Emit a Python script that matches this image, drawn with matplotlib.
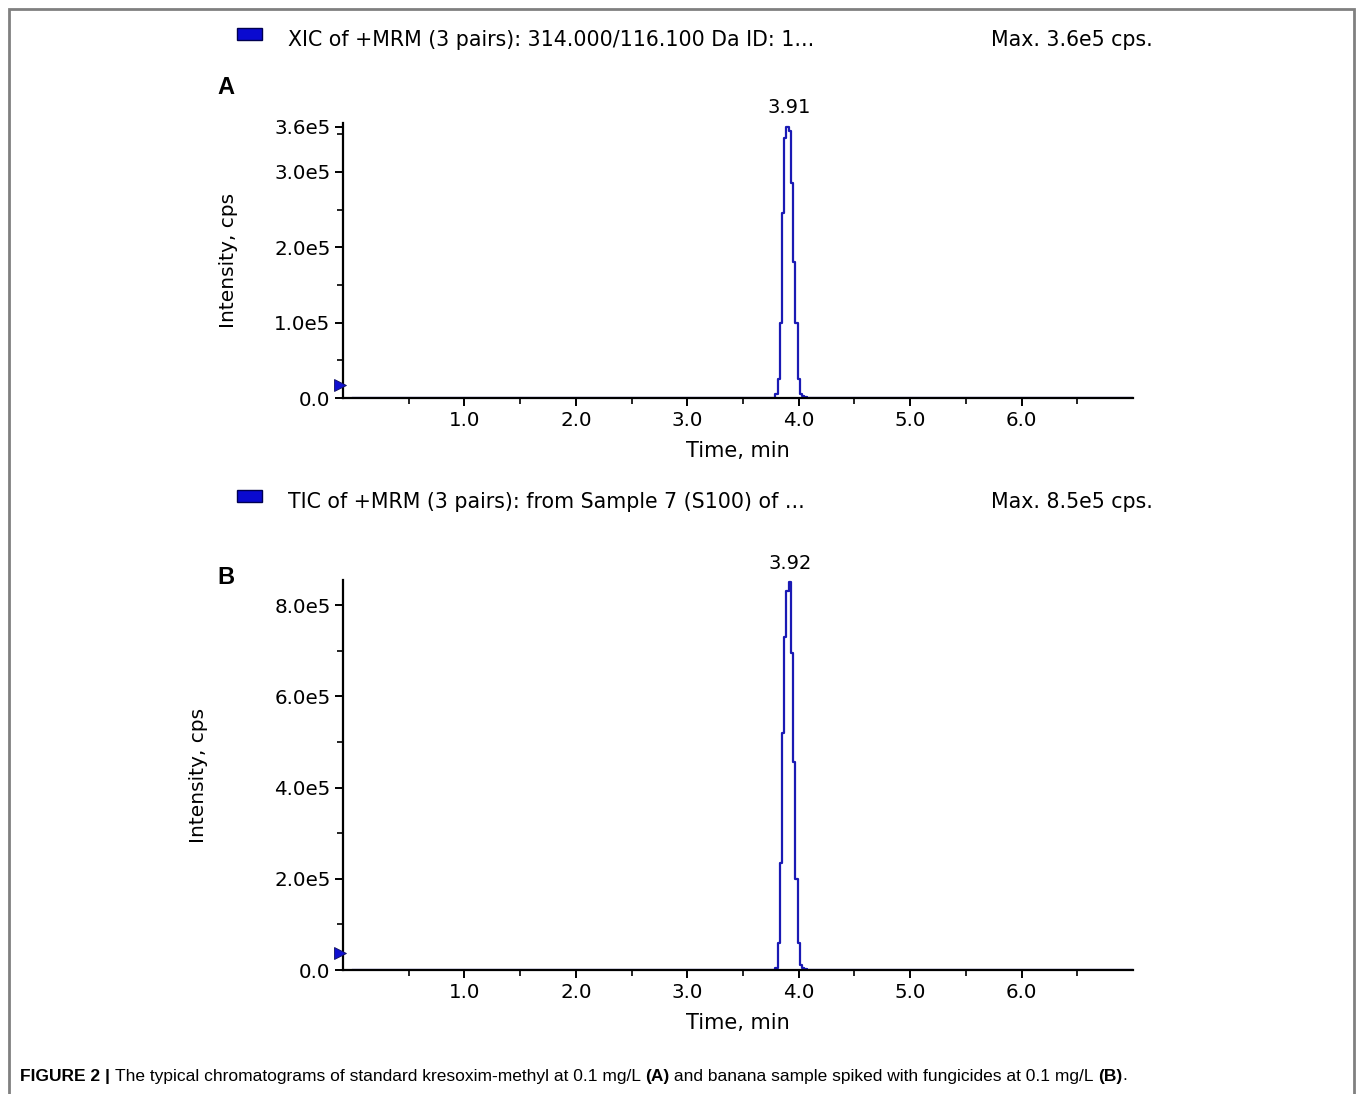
import numpy as np
import matplotlib
matplotlib.use("Agg")
import matplotlib.pyplot as plt
from matplotlib.patches import Rectangle
from matplotlib.ticker import MultipleLocator, FixedLocator

# chromatogram data (time in min, intensity in cps)
time_a = [0.0, 3.78, 3.80, 3.82, 3.84, 3.86, 3.88, 3.90, 3.92, 3.94, 3.96, 3.98, 4.00, 4.02, 4.04, 4.06, 4.08, 7.0]
int_a = [0, 0, 5e3, 2.5e4, 1.0e5, 2.45e5, 3.45e5, 3.6e5, 3.55e5, 2.85e5, 1.8e5, 1.0e5, 2.5e4, 5e3, 2e3, 1e3, 0, 0]

time_b = [0.0, 3.78, 3.80, 3.82, 3.84, 3.86, 3.88, 3.90, 3.92, 3.94, 3.96, 3.98, 4.00, 4.02, 4.04, 4.06, 4.08, 7.0]
int_b = [0, 0, 5e3, 6.0e4, 2.35e5, 5.2e5, 7.3e5, 8.3e5, 8.5e5, 6.95e5, 4.55e5, 2.0e5, 6.0e4, 1.0e4, 5e3, 3e3, 0, 0]

peak_rt = [3.91, 3.92]
peak_max = [3.6e5, 8.5e5]
baseline_marker = [1.7e4, 3.7e4]

headers = ["XIC of +MRM (3 pairs): 314.000/116.100 Da ID: 1...",
           "TIC of +MRM (3 pairs): from Sample 7 (S100) of ..."]
max_labels = ["Max. 3.6e5 cps.", "Max. 8.5e5 cps."]
panel_labels = ["A", "B"]

yticks_a = [0, 1e5, 2e5, 3e5, 3.6e5]
yticklabels_a = ["0.0", "1.0e5", "2.0e5", "3.0e5", "3.6e5"]
yticks_b = [0, 2e5, 4e5, 6e5, 8e5]
yticklabels_b = ["0.0", "2.0e5", "4.0e5", "6.0e5", "8.0e5"]
xticks = [1.0, 2.0, 3.0, 4.0, 5.0, 6.0]
xticklabels = ["1.0", "2.0", "3.0", "4.0", "5.0", "6.0"]

W, H = 1357, 1094
fig = plt.figure(figsize=(W / 100, H / 100), dpi=100)
plt.rcParams['font.family'] = ['DejaVu Sans']

def fx(px):
    return px / W

def fy(py):
    return 1 - py / H

# outer frame
fig.patches.append(Rectangle((fx(9), fy(1100)), fx(1354) - fx(9), fy(9) - fy(1100),
                             transform=fig.transFigure, fill=False, edgecolor='#808080', lw=2))

line_col = '#1a1ab4'
tick_fs = 14.3

def setup_axes(rect, t, y, ylim, yt, ytl, minor_y, hdr_y, lbl_y, ylab_x, idx):
    ax = fig.add_axes(rect)
    ax.plot(t, y, drawstyle='steps-mid', color=line_col, lw=1.6, zorder=2)
    ax.set_xlim(-0.09, 7.0)
    ax.set_ylim(*ylim)
    for s in ['top', 'right']:
        ax.spines[s].set_visible(False)
    for s in ['left', 'bottom']:
        ax.spines[s].set_linewidth(1.6)
        ax.spines[s].set_zorder(3)
    ax.xaxis.set_major_locator(FixedLocator(xticks))
    ax.set_xticklabels(xticklabels, fontsize=tick_fs)
    ax.xaxis.set_minor_locator(FixedLocator([0.5, 1.5, 2.5, 3.5, 4.5, 5.5, 6.5]))
    ax.set_yticks(yt)
    ax.set_yticklabels(ytl, fontsize=tick_fs)
    ax.yaxis.set_minor_locator(MultipleLocator(minor_y))
    ax.tick_params(which='major', length=6, width=1.4, pad=3)
    ax.tick_params(which='minor', length=4, width=1.2)
    ax.set_xlabel("Time, min", fontsize=15, labelpad=8)
    # baseline marker
    ax.plot([-0.004], [baseline_marker[idx]], marker='>', color='#1010d0', markersize=9,
            transform=ax.get_yaxis_transform(), clip_on=False, zorder=4,
            markeredgecolor='#101060', markeredgewidth=0.6)
    # peak label
    ax.annotate(f"{peak_rt[idx]:.2f}", xy=(peak_rt[idx], peak_max[idx]), xytext=(0, 7),
                textcoords='offset points', ha='center', va='bottom', fontsize=14,
                annotation_clip=False)
    # header
    fig.patches.append(Rectangle((fx(237), fy(hdr_y + 6)), fx(25), fy(hdr_y - 6) - fy(hdr_y + 6),
                                 transform=fig.transFigure, facecolor='#0a0ad0',
                                 edgecolor='#000050', lw=1))
    fig.text(fx(288), fy(hdr_y + 6), headers[idx], fontsize=14.8, va='center', ha='left')
    fig.text(fx(1153), fy(hdr_y + 6), max_labels[idx], fontsize=14.8, va='center', ha='right')
    fig.text(fx(226), fy(lbl_y), panel_labels[idx], fontsize=17, fontweight='bold',
             family='Liberation Sans', ha='center', va='center')
    fig.text(fx(ylab_x), rect[1] + rect[3] / 2, "Intensity, cps", fontsize=14.5,
             rotation=90, ha='center', va='center')
    return ax

ax_a = setup_axes([fx(343), fy(398), fx(1133) - fx(343), fy(123) - fy(398)],
                  time_a, int_a, (0, 3.65e5), yticks_a, yticklabels_a, 0.5e5,
                  34, 88, 228, 0)
ax_b = setup_axes([fx(343), fy(970), fx(1133) - fx(343), fy(580) - fy(970)],
                  time_b, int_b, (0, 8.55e5), yticks_b, yticklabels_b, 1e5,
                  496, 577, 198, 1)

# caption with mixed bold / regular pieces
caption = [("FIGURE 2 | ", 'bold'),
           ("The typical chromatograms of standard kresoxim-methyl at 0.1 mg/L ", 'normal'),
           ("(A)", 'bold'),
           (" and banana sample spiked with fungicides at 0.1 mg/L ", 'normal'),
           ("(B)", 'bold'),
           (".", 'normal')]
renderer = fig.canvas.get_renderer()
xpos = fx(20)
for txt, wt in caption:
    t = fig.text(xpos, fy(1076), txt, fontsize=12.5, fontweight=wt,
                 family='Liberation Sans', va='center', ha='left')
    bb = t.get_window_extent(renderer=renderer)
    xpos += bb.width / W

fig.savefig("out.png", dpi=100)
